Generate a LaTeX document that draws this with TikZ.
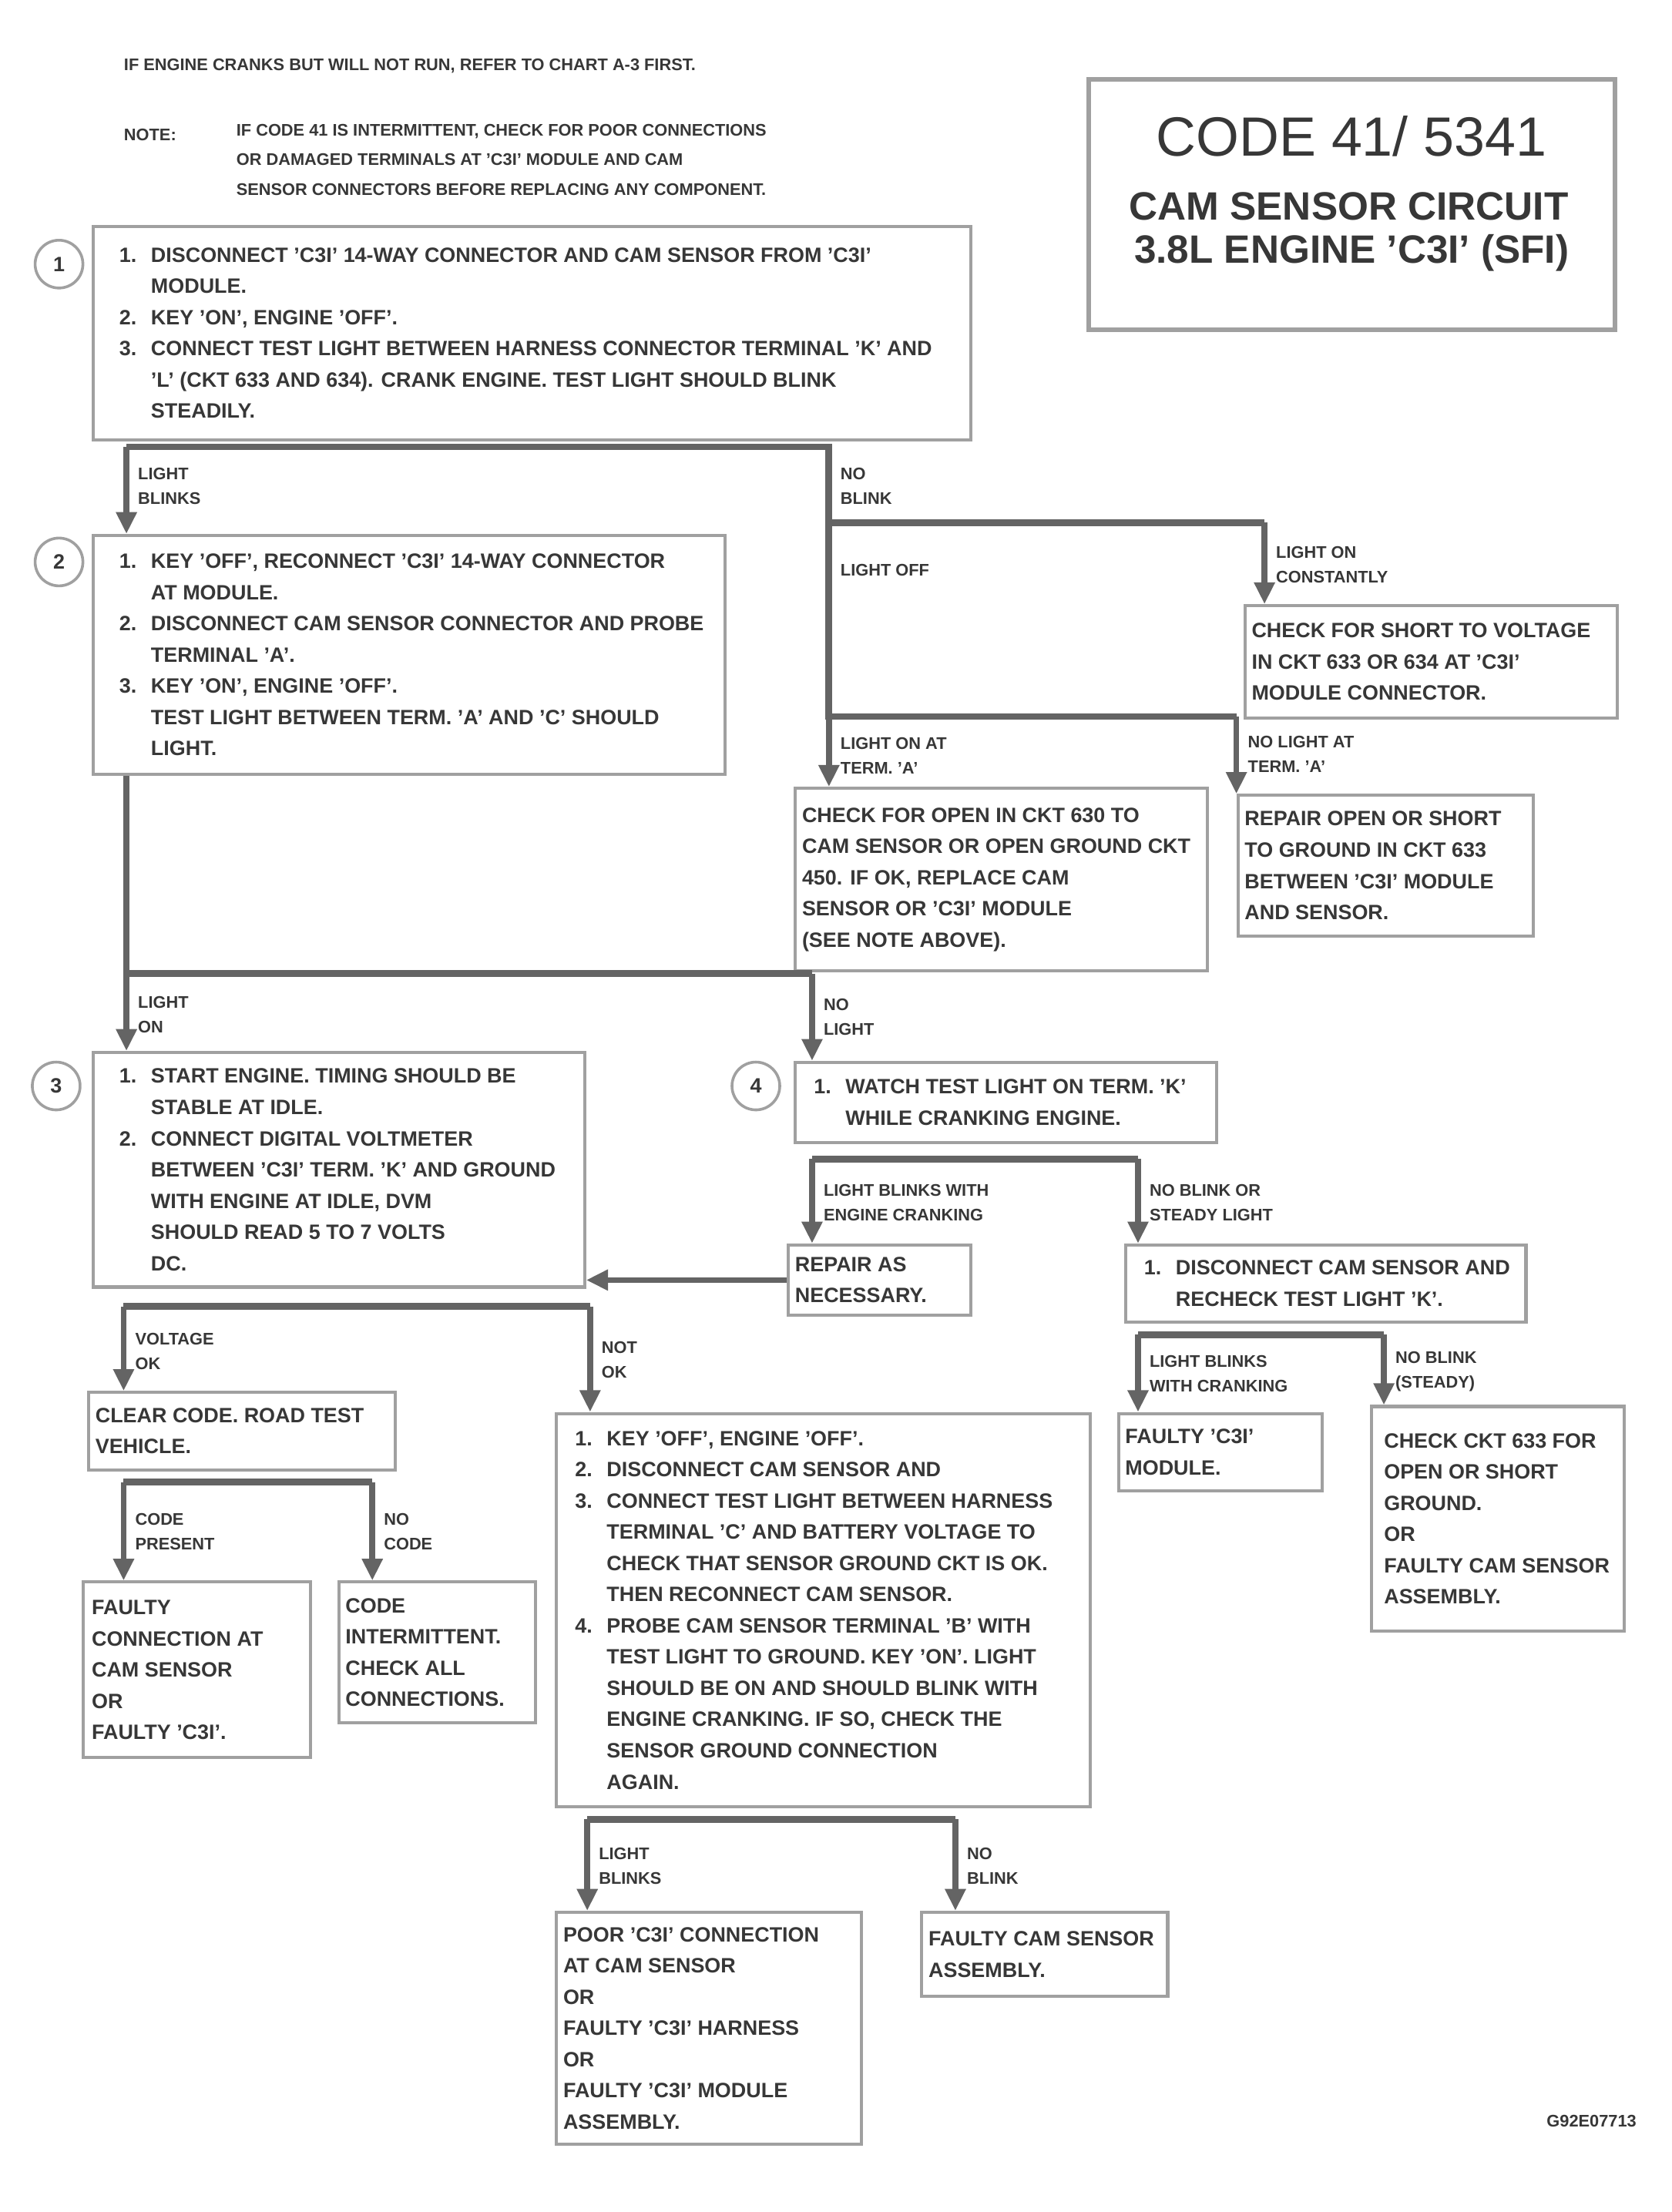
\documentclass[tikz,border=0pt]{standalone}
\usepackage{fontspec}
\setmainfont{Liberation Sans}
\usepackage{xcolor}
\usetikzlibrary{arrows.meta}
\definecolor{chartink}{RGB}{55,55,55}
\definecolor{chartbox}{RGB}{160,160,160}
\definecolor{chartbar}{RGB}{100,100,100}
\newcommand{\chartbody}{\fontsize{10.5}{15.8}\selectfont\bfseries}
\newcommand{\charttag}{\fontsize{8.5}{12.5}\selectfont\bfseries}
\newcommand{\charthead}{\fontsize{8.5}{15}\selectfont\bfseries}
\newcommand{\stepno}[1]{\makebox[16pt][l]{#1.}}
\newcommand{\indline}{\hspace*{16pt}}
\tikzset{
  stepbox/.style 2 args={draw=chartbox, line width=1.6pt, anchor=north west, minimum width=#1*0.025cm, minimum height=#2*0.025cm, inner sep=0pt},
  boxtext/.style={anchor=west, align=left, font=\chartbody, text=chartink, inner sep=0pt},
  branchtag/.style={anchor=west, align=left, font=\charttag, text=chartink, inner sep=0pt},
  barline/.style={draw=chartbar, line width=3.4pt},
  feedline/.style={draw=chartbar, line width=3pt, -{Triangle[length=11pt,width=10pt]}},
  stepball/.style={circle, draw=chartbox, line width=1.4pt, minimum size=0.85cm, inner sep=0pt, font=\chartbody, text=chartink}
}

\begin{document}
\begin{tikzpicture}[x=0.025cm, y=-0.025cm]
\path[use as bounding box, fill=white] (0,0) rectangle (1190,1574.5);

\node[anchor=west, font=\charthead, text=chartink, inner sep=0pt] (ifcrank) at (88,47) {IF ENGINE CRANKS BUT WILL NOT RUN, REFER TO CHART A-3 FIRST.};
\node[anchor=west, font=\charthead, text=chartink, inner sep=0pt] (notetag) at (88,96) {NOTE:};
\node[anchor=north west, align=left, font=\charthead, text=chartink, inner sep=0pt] (notetext) at (168,88) {IF CODE 41 IS INTERMITTENT, CHECK FOR POOR CONNECTIONS\\OR DAMAGED TERMINALS AT 'C3I' MODULE AND CAM\\SENSOR CONNECTORS BEFORE REPLACING ANY COMPONENT.};

\node[stepbox={375}{178}, line width=2.4pt] (title) at (773,55) {};
\node[font=\fontsize{28}{28}\selectfont, text=chartink] (titlecode) at (962,97) {CODE 41/ 5341};
\node[font=\fontsize{20}{20}\selectfont\bfseries, text=chartink] (titlename) at (960,147) {CAM SENSOR CIRCUIT};
\node[font=\fontsize{20}{20}\selectfont\bfseries, text=chartink] (titleeng) at (962,180) {3.8L ENGINE 'C3I' (SFI)};

\node[stepbox={625}{152}] (s1) at (65,160) {};
\node[boxtext] (s1t) at ([xshift=14pt]s1.west) {\stepno{1}DISCONNECT 'C3I' 14-WAY CONNECTOR AND CAM SENSOR FROM 'C3I'\\\indline MODULE.\\\stepno{2}KEY 'ON', ENGINE 'OFF'.\\\stepno{3}CONNECT TEST LIGHT BETWEEN HARNESS CONNECTOR TERMINAL 'K' AND\\\indline 'L' (CKT 633 AND 634). CRANK ENGINE. TEST LIGHT SHOULD BLINK\\\indline STEADILY.};
\node[stepball] (n1) at (42,188) {1};

\node[stepbox={450}{170}] (s2) at (65,380) {};
\node[boxtext] (s2t) at ([xshift=14pt]s2.west) {\stepno{1}KEY 'OFF', RECONNECT 'C3I' 14-WAY CONNECTOR\\\indline AT MODULE.\\\stepno{2}DISCONNECT CAM SENSOR CONNECTOR AND PROBE\\\indline TERMINAL 'A'.\\\stepno{3}KEY 'ON', ENGINE 'OFF'.\\\indline TEST LIGHT BETWEEN TERM. 'A' AND 'C' SHOULD\\\indline LIGHT.};
\node[stepball] (n2) at (42,400) {2};

\node[stepbox={265}{80}] (r1) at (885,430) {};
\node[boxtext] (r1t) at ([xshift=4pt]r1.west) {CHECK FOR SHORT TO VOLTAGE\\IN CKT 633 OR 634 AT 'C3I'\\MODULE CONNECTOR.};

\node[stepbox={293}{130}] (r2) at (565,560) {};
\node[boxtext] (r2t) at ([xshift=4pt]r2.west) {CHECK FOR OPEN IN CKT 630 TO\\CAM SENSOR OR OPEN GROUND CKT\\450. IF OK, REPLACE CAM\\SENSOR OR 'C3I' MODULE\\(SEE NOTE ABOVE).};

\node[stepbox={210}{100}] (r3) at (880,565) {};
\node[boxtext] (r3t) at ([xshift=4pt]r3.west) {REPAIR OPEN OR SHORT\\TO GROUND IN CKT 633\\BETWEEN 'C3I' MODULE\\AND SENSOR.};

\node[stepbox={350}{167}] (s3) at (65,748) {};
\node[boxtext] (s3t) at ([xshift=14pt]s3.west) {\stepno{1}START ENGINE. TIMING SHOULD BE\\\indline STABLE AT IDLE.\\\stepno{2}CONNECT DIGITAL VOLTMETER\\\indline BETWEEN 'C3I' TERM. 'K' AND GROUND\\\indline WITH ENGINE AT IDLE, DVM\\\indline SHOULD READ 5 TO 7 VOLTS\\\indline DC.};
\node[stepball] (n3) at (40,773) {3};

\node[stepbox={300}{57}] (s4) at (565,755) {};
\node[boxtext] (s4t) at ([xshift=10pt]s4.west) {\stepno{1}WATCH TEST LIGHT ON TERM. 'K'\\\indline WHILE CRANKING ENGINE.};
\node[stepball] (n4) at (538,773) {4};

\node[stepbox={130}{50}] (c1) at (560,885) {};
\node[boxtext] (c1t) at ([xshift=4pt]c1.west) {REPAIR AS\\NECESSARY.};

\node[stepbox={285}{55}] (s6) at (800,885) {};
\node[boxtext] (s6t) at ([xshift=10pt]s6.west) {\stepno{1}DISCONNECT CAM SENSOR AND\\\indline RECHECK TEST LIGHT 'K'.};

\node[stepbox={145}{55}] (r4) at (795,1005) {};
\node[boxtext] (r4t) at ([xshift=4pt]r4.west) {FAULTY 'C3I'\\MODULE.};

\node[stepbox={180}{160}] (r5) at (975,1000) {};
\node[boxtext] (r5t) at ([xshift=7pt]r5.west) {CHECK CKT 633 FOR\\OPEN OR SHORT\\GROUND.\\OR\\FAULTY CAM SENSOR\\ASSEMBLY.};

\node[stepbox={218}{55}] (q1) at (62,990) {};
\node[boxtext] (q1t) at ([xshift=4pt]q1.west) {CLEAR CODE. ROAD TEST\\VEHICLE.};

\node[stepbox={162}{125}] (r6) at (58,1125) {};
\node[boxtext] (r6t) at ([xshift=5pt]r6.west) {FAULTY\\CONNECTION AT\\CAM SENSOR\\OR\\FAULTY 'C3I'.};

\node[stepbox={140}{100}] (r7) at (240,1125) {};
\node[boxtext] (r7t) at ([xshift=4pt]r7.west) {CODE\\INTERMITTENT.\\CHECK ALL\\CONNECTIONS.};

\node[stepbox={380}{280}] (s5) at (395,1005) {};
\node[boxtext] (s5t) at ([xshift=10pt]s5.west) {\stepno{1}KEY 'OFF', ENGINE 'OFF'.\\\stepno{2}DISCONNECT CAM SENSOR AND\\\stepno{3}CONNECT TEST LIGHT BETWEEN HARNESS\\\indline TERMINAL 'C' AND BATTERY VOLTAGE TO\\\indline CHECK THAT SENSOR GROUND CKT IS OK.\\\indline THEN RECONNECT CAM SENSOR.\\\stepno{4}PROBE CAM SENSOR TERMINAL 'B' WITH\\\indline TEST LIGHT TO GROUND. KEY 'ON'. LIGHT\\\indline SHOULD BE ON AND SHOULD BLINK WITH\\\indline ENGINE CRANKING. IF SO, CHECK THE\\\indline SENSOR GROUND CONNECTION\\\indline AGAIN.};

\node[stepbox={217}{165}] (r8) at (395,1360) {};
\node[boxtext] (r8t) at ([xshift=4pt]r8.west) {POOR 'C3I' CONNECTION\\AT CAM SENSOR\\OR\\FAULTY 'C3I' HARNESS\\OR\\FAULTY 'C3I' MODULE\\ASSEMBLY.};

\node[stepbox={175}{60}] (r9) at (655,1360) {};
\node[boxtext] (r9t) at ([xshift=4pt]r9.west) {FAULTY CAM SENSOR\\ASSEMBLY.};

\coordinate (j1l) at (90,318);
\coordinate (j1r) at (590,318);
\coordinate (j2l) at (590,372);
\coordinate (j2r) at (900,372);
\coordinate (j3l) at (590,510);
\coordinate (j3r) at (880,510);
\coordinate (j4l) at (90,693);
\coordinate (j4r) at (578,693);
\coordinate (j5l) at (88,930);
\coordinate (j5r) at (420,930);
\coordinate (j6l) at (578,825);
\coordinate (j6r) at (810,825);
\coordinate (j7l) at (810,950);
\coordinate (j7r) at (985,950);
\coordinate (j8l) at (88,1055);
\coordinate (j8r) at (265,1055);
\coordinate (j9l) at (418,1295);
\coordinate (j9r) at (680,1295);

\draw[barline] (j1l) -- (j1r) -- (j3l) -- (j3r);
\draw[barline] (j2l) -- (j2r);
\draw[feedline] (j1l) -- (s2.north -| j1l);
\draw[feedline] (j2r) -- (r1.north -| j2r);
\draw[feedline] (j3l) -- (r2.north -| j3l);
\draw[feedline] (j3r) -- (r3.north -| j3r);
\draw[barline] (s2.south -| j4l) -- (j4l) -- (j4r);
\draw[feedline] (j4l) -- (s3.north -| j4l);
\draw[feedline] (j4r) -- (s4.north -| j4r);
\draw[barline] (j5l) -- (j5r);
\draw[feedline] (j5l) -- (q1.north -| j5l);
\draw[feedline] (j5r) -- (s5.north -| j5r);
\draw[barline] (j6l) -- (j6r);
\draw[feedline] (j6l) -- (c1.north -| j6l);
\draw[feedline] (j6r) -- (s6.north -| j6r);
\draw[feedline] (c1.west) -- (c1.west -| s3.east);
\draw[barline] (j7l) -- (j7r);
\draw[feedline] (j7l) -- (r4.north -| j7l);
\draw[feedline] (j7r) -- (r5.north -| j7r);
\draw[barline] (j8l) -- (j8r);
\draw[feedline] (j8l) -- (r6.north -| j8l);
\draw[feedline] (j8r) -- (r7.north -| j8r);
\draw[barline] (j9l) -- (j9r);
\draw[feedline] (j9l) -- (r8.north -| j9l);
\draw[feedline] (j9r) -- (r9.north -| j9r);

\node[branchtag] (t1a) at (98,346) {LIGHT\\BLINKS};
\node[branchtag] (t1b) at (598,346) {NO\\BLINK};
\node[branchtag] (t2a) at (598,406) {LIGHT OFF};
\node[branchtag] (t2b) at (908,402) {LIGHT ON\\CONSTANTLY};
\node[branchtag] (t3a) at (598,538) {LIGHT ON AT\\TERM. 'A'};
\node[branchtag] (t3b) at (888,537) {NO LIGHT AT\\TERM. 'A'};
\node[branchtag] (t4a) at (98,722) {LIGHT\\ON};
\node[branchtag] (t4b) at (586,724) {NO\\LIGHT};
\node[branchtag] (t5a) at (96,962) {VOLTAGE\\OK};
\node[branchtag] (t5b) at (428,968) {NOT\\OK};
\node[branchtag] (t6a) at (586,856) {LIGHT BLINKS WITH\\ENGINE CRANKING};
\node[branchtag] (t6b) at (818,856) {NO BLINK OR\\STEADY LIGHT};
\node[branchtag] (t7a) at (818,978) {LIGHT BLINKS\\WITH CRANKING};
\node[branchtag] (t7b) at (993,976) {NO BLINK\\(STEADY)};
\node[branchtag] (t8a) at (96,1090) {CODE\\PRESENT};
\node[branchtag] (t8b) at (273,1090) {NO\\CODE};
\node[branchtag] (t9a) at (426,1328) {LIGHT\\BLINKS};
\node[branchtag] (t9b) at (688,1328) {NO\\BLINK};

\node[anchor=east, font=\charttag, text=chartink, inner sep=0pt] (figref) at (1165,1510) {G92E07713};
\end{tikzpicture}
\end{document}
